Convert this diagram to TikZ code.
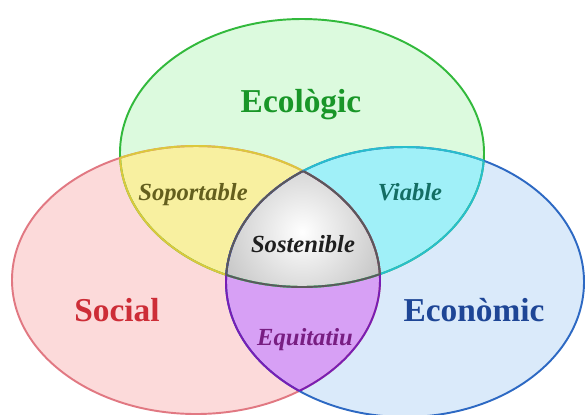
\documentclass[tikz,border=0pt]{standalone}
\usepackage{fontspec}
\setmainfont{Liberation Serif}
\usepackage{tikz}

\definecolor{ecoFill}{RGB}{220,250,222}
\definecolor{ecoLine}{RGB}{50,185,60}
\definecolor{ecoText}{RGB}{25,150,40}
\definecolor{socFill}{RGB}{252,218,218}
\definecolor{socLine}{RGB}{225,120,130}
\definecolor{socText}{RGB}{205,45,55}
\definecolor{ecnFill}{RGB}{218,234,250}
\definecolor{ecnLine}{RGB}{45,105,195}
\definecolor{ecnText}{RGB}{30,70,150}
\definecolor{supFill}{RGB}{248,240,160}
\definecolor{supLine}{RGB}{220,200,60}
\definecolor{supText}{RGB}{100,95,30}
\definecolor{viaFill}{RGB}{160,240,248}
\definecolor{viaLine}{RGB}{40,190,205}
\definecolor{viaText}{RGB}{20,110,100}
\definecolor{equFill}{RGB}{215,160,245}
\definecolor{equLine}{RGB}{120,30,180}
\definecolor{equText}{RGB}{120,30,130}
\definecolor{susLine}{RGB}{90,90,90}
\definecolor{susText}{RGB}{30,30,30}

% the three sets, in pixel units
\newcommand{\ecoEll}{(302,153) ellipse [x radius=182, y radius=134]}
\newcommand{\socEll}{(196,280) ellipse [x radius=184, y radius=134]}
\newcommand{\ecnEll}{(405,282) ellipse [x radius=179, y radius=135]}

\begin{document}
\begin{tikzpicture}[x=0.02cm,y=-0.02cm,line width=1.1pt,
    big/.style={font=\fontsize{19}{22}\selectfont\bfseries,anchor=base},
    small/.style={font=\fontsize{14}{16}\selectfont\bfseries\itshape,anchor=base}]
  \useasboundingbox (0,0) rectangle (585,414);
  % fill the sets
  \fill[ecoFill] \ecoEll;
  \fill[socFill] \socEll;
  \fill[ecnFill] \ecnEll;
  % two by two
  \begin{scope} \clip \ecoEll; \fill[supFill] \socEll; \end{scope}
  \begin{scope} \clip \ecoEll; \fill[viaFill] \ecnEll; \end{scope}
  \begin{scope} \clip \socEll; \fill[equFill] \ecnEll; \end{scope}
  % all three
  \begin{scope}
    \clip \ecoEll; \clip \socEll; \clip \ecnEll;
    \shade[inner color=white,outer color=gray!72] (302,232) circle (140);
  \end{scope}
  % outlines
  \draw[ecoLine] \ecoEll;
  \draw[socLine] \socEll;
  \draw[ecnLine] \ecnEll;
  \begin{scope} \clip \socEll; \draw[supLine] \ecoEll; \end{scope}
  \begin{scope} \clip \ecoEll; \draw[supLine] \socEll; \end{scope}
  \begin{scope} \clip \ecnEll; \draw[viaLine] \ecoEll; \end{scope}
  \begin{scope} \clip \ecoEll; \draw[viaLine] \ecnEll; \end{scope}
  \begin{scope} \clip \ecnEll; \draw[equLine] \socEll; \end{scope}
  \begin{scope} \clip \socEll; \draw[equLine] \ecnEll; \end{scope}
  \begin{scope} \clip \socEll; \clip \ecnEll; \draw[susLine] \ecoEll; \end{scope}
  \begin{scope} \clip \ecoEll; \clip \ecnEll; \draw[susLine] \socEll; \end{scope}
  \begin{scope} \clip \ecoEll; \clip \socEll; \draw[susLine] \ecnEll; \end{scope}
  % labels
  \node[big,ecoText] (eco) at (301,112) {Ecològic};
  \node[big,socText] (soc) at (117,321) {Social};
  \node[big,ecnText] (ecn) at (474,321) {Econòmic};
  \node[small,supText] (sup) at (193,200) {Soportable};
  \node[small,viaText] (via) at (410,200) {Viable};
  \node[small,susText] (sus) at (303,252) {Sostenible};
  \node[small,equText] (equ) at (305,345) {Equitatiu};
\end{tikzpicture}
\end{document}
